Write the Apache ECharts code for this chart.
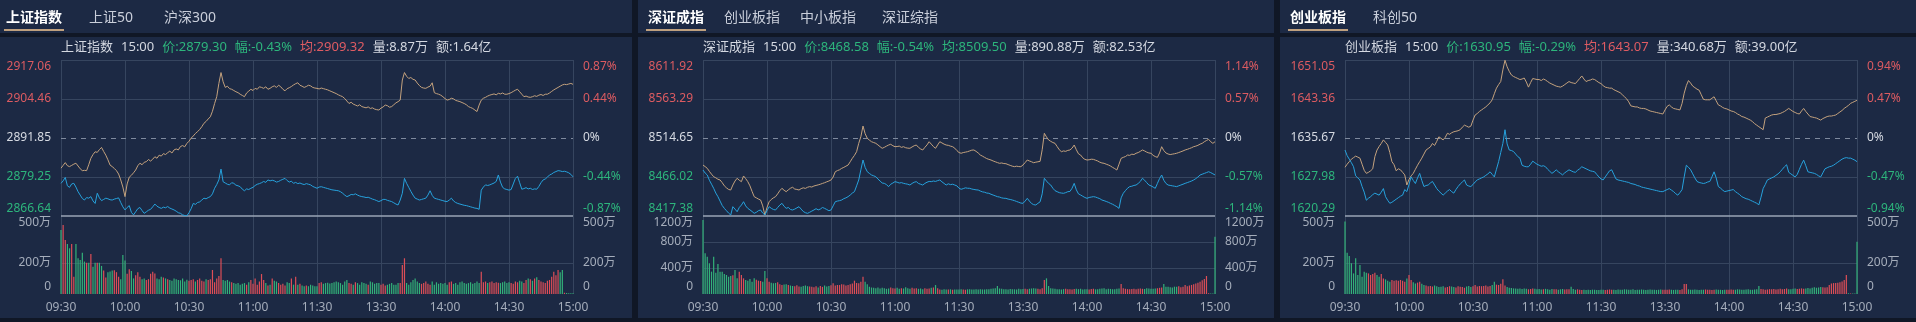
<!DOCTYPE html>
<html><head><meta charset="utf-8">
<script src="https://cdn.jsdelivr.net/npm/echarts@6/dist/echarts.min.js"></script>
<style>
html,body{margin:0;padding:0;background:#101726;width:1916px;height:322px;overflow:hidden;font-family:'Noto Sans','Noto Sans CJK SC',sans-serif;}
.panel{position:absolute;top:0;width:636px;height:318px;background:#1c2944;overflow:hidden}
.chart{position:absolute;left:0;top:0;width:636px;height:318px}
.tab{position:absolute;top:7px;font-size:14px;line-height:20px;color:#c9ceda;white-space:nowrap}
.tab.on{color:#ffffff;font-weight:bold}
.uline{position:absolute;top:29px;height:2px;background:#bfa07e}
.band{position:absolute;left:0;top:33px;width:636px;height:4px;background:#101726}
.info{position:absolute;left:65px;top:38px;font-size:13px;line-height:16px;color:#d4d8e1;white-space:nowrap}
.info span{margin-right:8px}
.info .g{color:#2db57c}.info .r{color:#e05c63}
</style></head>
<body>
<div class="panel" style="left:-4px">
  <div class="chart" id="c1"></div>
  <span class="tab on" style="left:10px">上证指数</span><span class="tab" style="left:93px">上证50</span><span class="tab" style="left:168px">沪深300</span>
  <div class="uline" style="left:8px;width:60px"></div>
  <div class="band"></div>
  <div class="info"><span>上证指数</span><span>15:00</span><span class="g">价:2879.30</span><span class="g">幅:-0.43%</span><span class="r">均:2909.32</span><span>量:8.87万</span><span>额:1.64亿</span></div>
</div>
<div class="panel" style="left:638px">
  <div class="chart" id="c2"></div>
  <span class="tab on" style="left:10px">深证成指</span><span class="tab" style="left:86px">创业板指</span><span class="tab" style="left:162px">中小板指</span><span class="tab" style="left:244px">深证综指</span>
  <div class="uline" style="left:8px;width:60px"></div>
  <div class="band"></div>
  <div class="info"><span>深证成指</span><span>15:00</span><span class="g">价:8468.58</span><span class="g">幅:-0.54%</span><span class="g">均:8509.50</span><span>量:890.88万</span><span>额:82.53亿</span></div>
</div>
<div class="panel" style="left:1280px">
  <div class="chart" id="c3"></div>
  <span class="tab on" style="left:10px">创业板指</span><span class="tab" style="left:93px">科创50</span>
  <div class="uline" style="left:8px;width:60px"></div>
  <div class="band"></div>
  <div class="info"><span>创业板指</span><span>15:00</span><span class="g">价:1630.95</span><span class="g">幅:-0.29%</span><span class="r">均:1643.07</span><span>量:340.68万</span><span>额:39.00亿</span></div>
</div>
<script>
// ---------- tick labels ----------
const sh_ticks = [2866.64, 2879.25, 2891.85, 2904.46, 2917.06];
const sh_pct = ['-0.87%', '-0.44%', '0%', '0.44%', '0.87%'];
const sh_volTicks = [0, 200, 500];
const sz_ticks = [8417.38, 8466.02, 8514.65, 8563.29, 8611.92];
const sz_pct = ['-1.14%', '-0.57%', '0%', '0.57%', '1.14%'];
const sz_volTicks = [0, 400, 800, 1200];
const cy_ticks = [1620.29, 1627.98, 1635.67, 1643.36, 1651.05];
const cy_pct = ['-0.94%', '-0.47%', '0%', '0.47%', '0.94%'];
const cy_volTicks = [0, 200, 500];
const timeTicks = ['09:30','10:00','10:30','11:00','11:30','13:30','14:00','14:30','15:00'];

// ---------- 上证指数 ----------
const sh_avg = [2882.1,2883.0,2883.9,2882.9,2882.6,2883.0,2883.4,2883.7,2882.8,2881.9,
2881.3,2881.4,2881.3,2883.2,2885.3,2886.5,2887.4,2887.2,2888.1,2888.8,
2887.5,2886.3,2884.8,2883.1,2882.6,2882.0,2881.3,2880.2,2878.3,2876.0,
2872.9,2877.0,2879.2,2879.8,2880.6,2881.5,2882.9,2883.7,2883.2,2884.0,
2884.2,2884.9,2884.4,2885.0,2885.8,2885.3,2886.3,2886.0,2886.8,2886.5,
2887.1,2887.6,2887.0,2888.0,2888.3,2888.0,2889.1,2889.4,2889.0,2890.1,
2890.8,2891.8,2892.5,2893.3,2893.9,2894.6,2895.5,2896.6,2897.2,2898.0,
2898.7,2900.5,2903.0,2905.2,2909.5,2913.0,2910.0,2908.2,2908.6,2907.8,
2907.6,2907.2,2906.8,2906.5,2906.0,2905.6,2905.2,2906.4,2907.0,2907.6,
2907.2,2907.9,2907.6,2908.4,2908.2,2907.9,2908.4,2907.6,2907.9,2908.4,
2908.7,2908.2,2908.9,2908.4,2907.6,2907.1,2907.8,2908.1,2908.5,2909.0,
2909.4,2909.7,2908.9,2908.6,2908.2,2908.5,2908.9,2908.7,2908.2,2908.0,
2907.9,2907.7,2908.0,2907.8,2907.6,2907.4,2907.1,2906.8,2906.5,2906.2,
2905.8,2905.5,2905.2,2904.6,2903.8,2903.0,2903.4,2902.8,2902.5,2902.2,
2902.6,2902.0,2901.8,2901.6,2901.9,2901.4,2901.6,2901.2,2901.0,2900.9,
2901.5,2901.9,2902.5,2902.3,2901.8,2902.0,2902.6,2903.2,2903.6,2904.1,
2910.6,2913.0,2911.8,2911.1,2911.4,2910.8,2910.6,2909.6,2908.8,2908.2,
2908.0,2907.9,2908.3,2908.6,2909.7,2906.5,2906.2,2906.0,2905.7,2905.2,
2904.6,2904.1,2904.3,2904.7,2904.5,2904.0,2903.8,2903.6,2903.3,2903.0,
2902.6,2902.0,2901.7,2901.4,2900.9,2900.4,2902.5,2904.1,2904.7,2905.0,
2905.4,2905.7,2905.9,2906.1,2905.8,2906.3,2906.1,2906.4,2906.0,2906.0,
2906.2,2906.5,2906.9,2907.3,2907.6,2906.8,2906.0,2905.2,2905.4,2905.1,
2905.0,2905.2,2905.5,2905.3,2905.7,2905.9,2905.6,2906.0,2906.0,2906.4,
2906.9,2907.4,2907.8,2908.2,2908.6,2909.0,2909.2,2909.1,2909.3,2909.5,
2909.2];
const sh_price = [2877.2,2878.0,2879.1,2876.4,2875.9,2877.0,2877.2,2876.0,2874.5,2873.4,
2872.3,2871.8,2872.6,2872.4,2872.9,2871.5,2870.7,2874.0,2872.5,2871.6,
2872.0,2872.4,2872.2,2871.9,2871.8,2872.1,2872.3,2872.5,2871.0,2869.6,
2868.6,2869.4,2870.0,2867.8,2867.0,2868.0,2869.0,2869.4,2868.4,2867.5,
2868.0,2868.5,2868.8,2869.6,2870.5,2869.8,2869.4,2869.1,2869.5,2869.3,
2869.7,2869.2,2868.9,2868.6,2868.2,2867.7,2867.5,2867.0,2866.8,2866.7,
2867.7,2869.0,2870.7,2870.4,2871.0,2871.2,2871.8,2872.4,2872.2,2872.6,
2872.9,2873.8,2875.6,2876.8,2878.3,2881.8,2877.7,2877.3,2876.9,2876.7,
2877.4,2877.2,2876.6,2876.4,2876.1,2875.3,2874.8,2875.4,2875.2,2875.6,
2875.9,2876.5,2876.9,2877.1,2877.4,2877.8,2877.5,2878.3,2878.0,2878.2,
2878.0,2877.6,2877.8,2878.2,2878.5,2878.8,2878.1,2877.6,2877.9,2877.2,
2877.5,2877.1,2877.3,2877.0,2876.8,2877.1,2876.9,2876.7,2876.2,2875.9,
2875.6,2876.0,2876.1,2875.9,2875.7,2875.5,2875.3,2875.1,2875.0,2874.9,
2874.8,2874.5,2874.0,2873.4,2872.9,2873.2,2873.6,2873.5,2873.8,2873.4,
2873.1,2872.9,2872.8,2872.6,2872.7,2872.4,2872.1,2871.9,2871.6,2871.3,
2871.6,2872.0,2872.0,2871.7,2871.5,2871.3,2870.9,2870.5,2870.2,2871.8,
2874.0,2878.8,2877.2,2875.9,2874.6,2873.4,2872.4,2872.1,2871.8,2872.0,
2872.2,2872.4,2873.4,2874.8,2873.3,2872.4,2872.2,2872.0,2871.8,2871.6,
2871.4,2871.3,2871.8,2872.4,2871.5,2871.0,2870.7,2870.5,2870.3,2870.1,
2870.0,2869.8,2869.6,2869.4,2869.2,2869.1,2868.8,2875.0,2876.0,2876.7,
2876.5,2876.7,2877.0,2877.3,2877.8,2879.9,2877.6,2875.9,2875.4,2875.2,
2875.0,2875.2,2877.0,2878.8,2879.5,2877.4,2875.3,2875.5,2875.8,2875.4,
2875.6,2875.2,2875.4,2875.3,2876.2,2877.4,2878.3,2878.6,2879.2,2879.9,
2880.2,2880.7,2881.0,2881.3,2881.2,2881.0,2881.1,2880.9,2880.6,2880.1,
2879.3];
const sh_vol = [410,442,346,320,293,320,111,320,229,218,
265,208,201,201,256,175,201,201,201,180,
150,105,140,145,150,152,140,110,95,250,
214,130,158,147,100,120,140,110,95,100,
90,95,130,143,132,100,95,110,105,100,
95,90,85,100,95,90,88,100,80,92,
85,90,95,80,90,100,85,80,95,90,
95,154,75,100,115,229,90,85,90,80,
75,70,65,70,60,65,70,60,75,90,
65,100,60,80,128,90,70,55,60,100,
85,80,70,60,65,55,75,70,100,60,
111,60,65,55,50,55,50,60,55,50,
50,70,75,65,70,72,68,70,75,80,
75,70,60,80,90,70,65,60,75,70,
60,75,70,65,60,80,75,65,70,70,
60,65,55,60,65,70,60,60,70,70,
186,229,70,60,75,90,100,80,70,65,
70,80,65,60,80,60,75,65,70,65,
70,60,75,80,65,70,60,75,80,70,
65,70,75,65,70,80,70,143,75,80,
70,75,80,70,75,72,70,75,80,70,
75,70,65,80,75,85,80,70,90,100,
95,85,100,107,90,80,75,70,85,90,
110,143,120,154,140,154,8,6,5,5,
5];

// ---------- 深证成指 ----------
const sz_avg = [8480.9,8479.0,8476.8,8473.0,8469.5,8466.4,8465.0,8463.2,8462.3,8459.0,
8455.0,8452.5,8450.5,8449.8,8456.0,8461.0,8464.4,8462.0,8460.2,8467.3,
8464.0,8460.2,8455.0,8448.0,8441.5,8440.0,8438.5,8437.3,8430.0,8418.6,
8428.0,8435.2,8438.0,8440.0,8441.5,8445.0,8449.0,8451.9,8449.5,8447.7,
8450.0,8452.0,8453.2,8451.0,8450.5,8449.8,8451.5,8452.5,8451.8,8453.2,
8454.0,8453.5,8454.8,8455.5,8456.2,8457.0,8458.0,8458.9,8460.0,8461.0,
8462.3,8466.0,8472.6,8474.0,8475.0,8476.8,8478.0,8479.5,8480.9,8485.0,
8489.3,8493.0,8497.6,8508.0,8516.3,8529.6,8520.0,8514.3,8512.0,8510.0,
8509.0,8508.0,8506.0,8503.8,8501.8,8503.0,8504.5,8505.9,8506.8,8505.0,
8503.8,8504.0,8504.5,8503.0,8503.8,8502.5,8502.0,8501.8,8503.5,8505.0,
8505.9,8503.0,8501.0,8499.7,8503.0,8506.0,8510.0,8507.0,8504.0,8501.8,
8506.0,8510.0,8508.5,8507.0,8505.9,8505.5,8504.5,8503.8,8502.0,8499.0,
8496.5,8495.6,8496.5,8497.0,8497.6,8498.5,8499.5,8499.7,8498.0,8496.0,
8493.4,8492.0,8490.5,8489.0,8488.0,8487.2,8486.0,8485.0,8484.0,8483.1,
8483.5,8482.8,8482.6,8481.5,8480.5,8479.5,8478.9,8479.5,8479.0,8478.9,
8481.0,8484.0,8487.2,8486.0,8485.0,8483.8,8484.5,8485.0,8485.5,8500.0,
8520.5,8516.0,8512.2,8510.5,8509.0,8508.0,8504.0,8500.0,8497.6,8498.5,
8498.0,8499.2,8499.7,8502.0,8505.9,8500.0,8495.0,8493.4,8490.0,8488.0,
8487.2,8487.5,8488.2,8488.0,8487.0,8486.0,8484.5,8483.5,8483.1,8482.0,
8481.0,8479.7,8478.0,8476.5,8474.7,8482.0,8489.3,8490.5,8491.5,8493.4,
8493.0,8494.5,8494.0,8495.6,8496.5,8498.0,8499.7,8498.5,8497.0,8496.0,
8495.6,8493.0,8491.5,8490.5,8496.0,8503.8,8499.0,8496.0,8494.7,8494.0,
8494.5,8495.0,8495.6,8496.5,8497.5,8498.5,8499.7,8500.5,8501.5,8502.5,
8503.8,8504.5,8505.5,8507.0,8508.0,8510.0,8511.5,8513.0,8510.0,8508.0,
8510.0];
const sz_price = [8474.7,8471.0,8468.5,8462.0,8457.0,8451.9,8446.0,8441.5,8436.0,8430.5,
8426.9,8424.0,8421.0,8418.6,8429.0,8426.0,8422.7,8428.0,8431.0,8435.2,
8430.0,8426.9,8425.0,8423.0,8420.7,8422.0,8424.0,8424.9,8421.0,8418.6,
8424.0,8429.0,8427.0,8425.5,8424.9,8428.0,8431.0,8433.2,8429.5,8426.9,
8428.0,8425.5,8424.9,8426.0,8427.5,8429.0,8426.0,8423.0,8421.5,8420.7,
8422.0,8423.5,8424.9,8426.5,8425.0,8426.0,8428.0,8426.9,8425.5,8424.0,
8424.9,8430.0,8435.2,8436.0,8436.5,8437.3,8439.0,8440.0,8441.5,8443.5,
8446.0,8447.7,8455.0,8462.3,8475.0,8487.2,8478.0,8472.6,8470.5,8468.5,
8467.5,8466.4,8463.5,8461.0,8458.5,8458.1,8456.5,8454.0,8457.0,8458.5,
8460.2,8459.5,8458.5,8459.0,8458.1,8457.5,8457.0,8456.0,8458.0,8459.5,
8460.2,8458.0,8457.0,8456.0,8458.0,8459.5,8460.5,8460.2,8461.0,8460.5,
8461.5,8462.3,8460.0,8458.0,8456.0,8457.5,8456.5,8457.0,8456.0,8455.0,
8452.0,8450.7,8451.5,8452.5,8452.0,8451.9,8451.0,8450.5,8450.0,8449.8,
8448.5,8447.5,8447.0,8446.0,8445.7,8444.5,8443.5,8442.5,8441.5,8441.0,
8440.0,8439.5,8439.4,8438.5,8438.0,8437.3,8436.5,8435.5,8434.5,8433.5,
8433.2,8436.0,8439.4,8436.0,8433.0,8431.5,8431.1,8433.2,8435.0,8445.0,
8464.4,8461.0,8458.0,8456.0,8452.0,8449.0,8447.7,8446.5,8446.0,8445.7,
8446.5,8447.7,8448.0,8452.0,8458.1,8450.0,8445.0,8443.6,8442.0,8440.5,
8439.4,8440.5,8441.0,8441.5,8441.0,8440.0,8439.0,8437.3,8436.5,8435.5,
8434.5,8433.2,8432.0,8430.5,8429.0,8426.9,8440.0,8445.7,8449.0,8452.0,
8454.0,8454.5,8455.5,8456.0,8458.0,8460.5,8464.4,8462.0,8459.0,8456.0,
8455.0,8453.5,8451.9,8458.0,8464.0,8468.5,8462.0,8458.0,8456.0,8455.5,
8455.0,8454.5,8454.0,8455.0,8456.0,8457.0,8458.1,8459.0,8460.0,8461.0,
8462.3,8464.0,8466.0,8468.5,8469.5,8470.5,8471.5,8472.6,8471.5,8470.0,
8468.6];
const sz_vol = [1140,626,574,472,344,574,328,462,344,344,
308,292,267,277,290,369,241,344,292,241,
215,205,230,190,241,220,205,200,190,354,
241,190,175,164,170,180,150,138,145,150,
140,130,125,120,135,115,110,125,130,120,
115,110,105,120,100,125,110,130,115,125,
135,164,130,140,138,150,145,130,138,150,
160,205,170,164,190,267,190,150,110,100,
95,90,100,85,95,90,80,85,100,90,
85,95,80,90,85,103,90,80,95,85,
90,80,85,75,90,80,85,95,100,138,
90,70,65,72,68,70,72,65,70,68,
70,72,68,65,72,75,70,68,72,70,
75,70,68,72,75,80,85,90,123,85,
80,75,72,70,78,75,72,70,80,75,
78,82,75,80,85,90,85,80,75,90,
215,241,123,90,85,80,75,72,70,75,
80,75,72,70,78,82,75,80,70,72,
75,70,78,80,72,75,80,85,90,75,
80,78,72,75,80,85,154,90,80,75,
72,78,80,75,82,85,80,78,90,85,
80,82,85,90,95,100,154,113,110,105,
100,113,110,120,105,113,138,120,130,140,
150,160,175,190,210,230,277,10,8,6,
882];

// ---------- 创业板指 ----------
const cy_avg = [1629.9,1630.5,1631.0,1631.5,1631.8,1632.1,1631.9,1631.7,1630.5,1629.3,
1628.7,1628.9,1629.2,1629.6,1632.0,1633.3,1634.0,1634.6,1635.3,1634.8,
1634.3,1632.8,1631.0,1630.4,1629.2,1629.6,1629.4,1628.9,1628.4,1626.4,
1627.5,1628.2,1628.7,1629.5,1630.3,1631.0,1631.7,1632.5,1633.3,1633.6,
1633.9,1634.6,1634.2,1635.0,1635.9,1635.6,1635.3,1635.8,1636.6,1636.4,
1636.7,1636.9,1637.0,1637.1,1637.3,1637.8,1638.2,1638.0,1637.8,1638.0,
1639.2,1640.2,1640.5,1640.9,1641.2,1641.5,1641.8,1642.2,1642.6,1643.2,
1644.4,1645.5,1646.2,1646.8,1649.1,1651.0,1649.7,1648.8,1648.1,1647.8,
1647.6,1647.4,1647.2,1647.3,1647.5,1646.7,1645.7,1646.6,1647.4,1647.3,
1647.2,1647.2,1647.0,1647.3,1647.1,1646.8,1646.5,1646.3,1646.1,1645.9,
1645.8,1645.7,1645.9,1646.2,1646.5,1646.8,1646.6,1646.5,1646.4,1646.9,
1647.4,1647.9,1647.3,1646.8,1647.0,1647.1,1647.3,1647.2,1646.9,1646.6,
1646.4,1646.0,1645.7,1645.6,1645.5,1645.5,1645.2,1645.0,1644.8,1644.6,
1644.2,1643.8,1643.4,1642.8,1642.0,1641.9,1641.8,1641.8,1641.6,1641.5,
1641.5,1641.4,1641.2,1641.0,1640.9,1640.8,1640.7,1640.6,1640.5,1640.4,
1641.2,1641.9,1642.2,1641.8,1641.5,1641.4,1641.3,1641.2,1642.5,1644.5,
1646.0,1647.0,1646.5,1645.9,1645.6,1645.3,1645.1,1644.2,1643.3,1643.2,
1643.2,1643.2,1643.5,1643.8,1643.0,1642.2,1642.0,1641.7,1641.5,1641.4,
1641.2,1641.0,1640.9,1640.7,1640.4,1640.2,1639.9,1639.8,1639.6,1639.4,
1639.2,1638.9,1638.5,1638.2,1637.9,1637.6,1637.3,1639.6,1639.8,1640.0,
1640.2,1640.3,1640.3,1640.4,1640.5,1640.7,1640.9,1641.2,1641.5,1641.2,
1640.9,1640.7,1640.5,1640.4,1641.0,1641.5,1640.9,1640.4,1639.9,1639.8,
1639.7,1639.6,1639.4,1639.2,1639.5,1639.7,1639.9,1640.0,1640.0,1640.1,
1640.2,1640.5,1640.8,1641.1,1641.5,1641.8,1642.1,1642.5,1642.7,1642.9,
1643.1];
const cy_price = [1633.3,1632.2,1631.5,1630.8,1630.0,1628.2,1627.8,1627.4,1626.1,1625.0,
1623.4,1623.8,1624.1,1624.5,1624.8,1624.6,1624.4,1625.0,1625.7,1624.1,
1623.4,1622.8,1623.0,1623.3,1623.6,1623.9,1624.2,1624.4,1625.5,1625.1,
1626.5,1628.0,1627.3,1626.7,1627.8,1628.7,1627.3,1626.1,1626.3,1626.4,
1626.8,1627.1,1626.4,1625.7,1625.2,1624.8,1624.4,1624.8,1625.2,1625.5,
1625.1,1624.8,1625.5,1626.1,1626.6,1627.0,1627.4,1626.4,1626.2,1626.1,
1626.5,1627.0,1627.4,1627.6,1627.8,1628.0,1628.3,1628.6,1629.0,1628.5,
1628.0,1629.5,1631.0,1632.8,1634.6,1637.3,1634.5,1633.3,1633.2,1633.0,
1632.5,1632.0,1631.7,1630.3,1630.1,1630.0,1630.0,1630.5,1631.1,1630.8,
1630.5,1630.3,1630.1,1630.2,1630.0,1629.5,1629.1,1628.7,1629.0,1629.4,
1629.0,1628.7,1628.4,1628.8,1629.1,1629.4,1629.2,1629.0,1628.9,1629.3,
1629.6,1630.0,1629.8,1629.6,1629.4,1629.2,1629.1,1629.0,1628.5,1628.0,
1627.6,1627.4,1628.0,1628.6,1629.2,1629.4,1628.5,1627.6,1627.4,1627.3,
1627.2,1627.1,1627.0,1626.9,1626.7,1626.6,1626.5,1626.3,1626.2,1626.0,
1625.9,1625.8,1625.7,1625.6,1625.5,1625.4,1625.3,1625.2,1625.1,1625.1,
1625.3,1625.5,1625.7,1625.4,1625.1,1624.7,1624.4,1624.9,1625.5,1628.0,
1630.3,1629.9,1629.4,1628.6,1627.8,1627.1,1626.9,1626.8,1626.7,1626.8,
1627.0,1627.1,1628.0,1629.0,1627.8,1626.1,1625.8,1625.4,1625.1,1625.2,
1625.3,1625.4,1625.5,1625.1,1624.8,1624.5,1624.1,1623.9,1623.7,1623.6,
1623.4,1623.2,1623.0,1622.8,1622.5,1624.0,1625.7,1626.5,1627.4,1627.6,
1627.8,1628.0,1628.3,1628.6,1629.0,1629.5,1630.0,1630.4,1628.9,1628.6,
1628.3,1628.0,1628.5,1629.5,1630.5,1631.3,1630.2,1629.0,1628.9,1628.8,
1628.7,1628.5,1628.2,1628.0,1628.8,1629.6,1629.8,1630.0,1630.1,1630.3,
1630.6,1630.9,1631.2,1631.5,1631.7,1631.8,1631.7,1631.7,1631.5,1631.3,
1631.0];
const cy_vol = [464,265,244,197,132,229,122,186,111,143,
137,132,122,128,137,122,111,128,100,94,
85,79,90,85,88,85,90,85,79,100,
122,90,75,68,73,79,65,58,55,50,
52,48,55,50,45,47,50,42,45,50,
48,45,42,50,47,45,40,48,52,45,
50,58,48,52,50,51,55,48,52,58,
79,60,58,65,94,55,45,40,38,36,
35,33,36,32,35,34,30,32,36,33,
30,32,29,31,33,30,28,32,30,31,
28,30,32,29,31,30,47,32,28,30,
27,26,28,25,27,26,28,27,26,25,
27,28,26,28,29,27,28,26,29,27,
28,30,29,27,28,30,26,28,27,29,
28,26,27,29,28,27,26,28,29,27,
28,27,29,28,26,27,28,26,30,64,
64,30,28,27,29,28,26,27,28,29,
27,28,26,27,29,28,27,26,28,27,
28,29,27,28,30,29,27,28,29,30,
28,27,29,30,51,32,30,28,29,31,
30,32,29,31,33,30,32,36,30,31,
33,35,32,34,36,33,35,38,36,40,
43,40,42,45,43,41,44,58,68,70,
70,72,75,80,90,122,5,4,3,3,
335];

// ---------- styling ----------
const FONT = "'Noto Sans','Noto Sans CJK SC',sans-serif";
const TXT = {r:'#dc5b61', g:'#2db57c', w:'#d6dae2', v:'#a5adbb'};
const BAR_RED = '#dd4e57', BAR_GREEN = '#33b179';
const GRID = '#36455f', ZERO = '#7f8a9e', SEP = '#9aa4b6';
const C_PRICE = '#27a2dd', C_AVG = '#c4a27e';

const RICH = {};
for (const k in TXT) {
  RICH[k + 't'] = {color: TXT[k], fontSize: 12, fontFamily: FONT, lineHeight: 14, padding: [13, 0, 0, 0]};
  RICH[k + 'm'] = {color: TXT[k], fontSize: 12, fontFamily: FONT, lineHeight: 14};
  RICH[k + 'b'] = {color: TXT[k], fontSize: 12, fontFamily: FONT, lineHeight: 14, padding: [0, 0, 14, 0]};
}

// minute categories 09:30..11:30, 13:01..15:00
const minutes = [];
function hm(t) { const h = Math.floor(t / 60), m = t % 60; return (h < 10 ? '0' : '') + h + ':' + (m < 10 ? '0' : '') + m; }
for (let t = 570; t <= 690; t++) minutes.push(hm(t));
for (let t = 781; t <= 900; t++) minutes.push(hm(t));

function labeler(ticks, texts, pre, fixedCol) {
  return function (v) {
    let j = 0, best = Infinity;
    ticks.forEach((t, k) => { const d = Math.abs(t - v); if (d < best) { best = d; j = k; } });
    const col = fixedCol || (ticks[j] > pre ? 'r' : ticks[j] < pre ? 'g' : 'w');
    const pos = j === ticks.length - 1 ? 't' : (j === 0 ? 'b' : 'm');
    return '{' + col + pos + '|' + texts[j] + '}';
  };
}

function build(id, ticks, pct, volTicks, price, avg, vol) {
  const chart = echarts.init(document.getElementById(id), null, {width: 636, height: 318});
  const pre = ticks[2];
  const priceTexts = ticks.map(t => t.toFixed(2));
  const volTexts = volTicks.map(v => v === 0 ? '0' : v + '万');
  const vmax = volTicks[volTicks.length - 1];
  const splitFn = (i) => i % 30 === 0;
  const xBase = {
    type: 'category', data: minutes, boundaryGap: false,
    axisLine: {show: false}, axisTick: {show: false},
    splitLine: {show: true, interval: splitFn, lineStyle: {color: GRID, width: 1}}
  };
  const yBase = {
    type: 'value', axisLine: {show: false}, axisTick: {show: false}, splitLine: {show: false}
  };
  const barData = vol.map((v, i) => {
    const prev = i === 0 ? pre : price[i - 1];
    return {value: v, itemStyle: {color: price[i] >= prev ? BAR_RED : BAR_GREEN}};
  });
  const priceLines = ticks.map((t, j) => {
    let ls;
    if (j === 0) ls = {color: SEP, width: 1.5, type: 'solid'};
    else if (t === pre) ls = {color: ZERO, width: 1, type: [5, 5]};
    else ls = {color: GRID, width: 1, type: 'solid'};
    return {yAxis: t, lineStyle: ls};
  });
  const volLines = volTicks.slice(1, -1).map(v => ({yAxis: v, lineStyle: {color: GRID, width: 1, type: 'solid'}}));

  chart.setOption({
    animation: false,
    grid: [
      {left: 65, right: 59, top: 60, height: 156},
      {left: 65, right: 59, top: 216, height: 78}
    ],
    xAxis: [
      Object.assign({}, xBase, {gridIndex: 0, axisLabel: {show: false}}),
      Object.assign({}, xBase, {gridIndex: 1, axisLabel: {show: true, interval: splitFn, color: TXT.v, fontSize: 12, fontFamily: FONT, margin: 8}})
    ],
    yAxis: [
      Object.assign({}, yBase, {gridIndex: 0, position: 'left', min: ticks[0], max: ticks[4],
        axisLabel: {customValues: ticks, formatter: labeler(ticks, priceTexts, pre), rich: RICH, margin: 10}}),
      Object.assign({}, yBase, {gridIndex: 0, position: 'right', min: ticks[0], max: ticks[4],
        axisLabel: {customValues: ticks, formatter: labeler(ticks, pct, pre), rich: RICH, margin: 10}}),
      Object.assign({}, yBase, {gridIndex: 1, position: 'left', min: 0, max: vmax,
        axisLabel: {customValues: volTicks, formatter: labeler(volTicks, volTexts, 0, 'v'), rich: RICH, margin: 10}}),
      Object.assign({}, yBase, {gridIndex: 1, position: 'right', min: 0, max: vmax,
        axisLabel: {customValues: volTicks, formatter: labeler(volTicks, volTexts, 0, 'v'), rich: RICH, margin: 10}})
    ],
    series: [
      {type: 'bar', xAxisIndex: 1, yAxisIndex: 2, data: barData, barWidth: 1.2,
        markLine: {silent: true, z: 1, symbol: ['none', 'none'], label: {show: false}, data: volLines}},
      {type: 'line', xAxisIndex: 0, yAxisIndex: 0, data: avg, showSymbol: false, symbol: 'none',
        lineStyle: {color: C_AVG, width: 1}, itemStyle: {color: C_AVG}, z: 3,
        markLine: {silent: true, z: 1, symbol: ['none', 'none'], label: {show: false}, data: priceLines}},
      {type: 'line', xAxisIndex: 0, yAxisIndex: 0, data: price, showSymbol: false, symbol: 'none',
        lineStyle: {color: C_PRICE, width: 1}, itemStyle: {color: C_PRICE}, z: 3}
    ]
  });
}

build('c1', sh_ticks, sh_pct, sh_volTicks, sh_price, sh_avg, sh_vol);
build('c2', sz_ticks, sz_pct, sz_volTicks, sz_price, sz_avg, sz_vol);
build('c3', cy_ticks, cy_pct, cy_volTicks, cy_price, cy_avg, cy_vol);
</script>
</body></html>
